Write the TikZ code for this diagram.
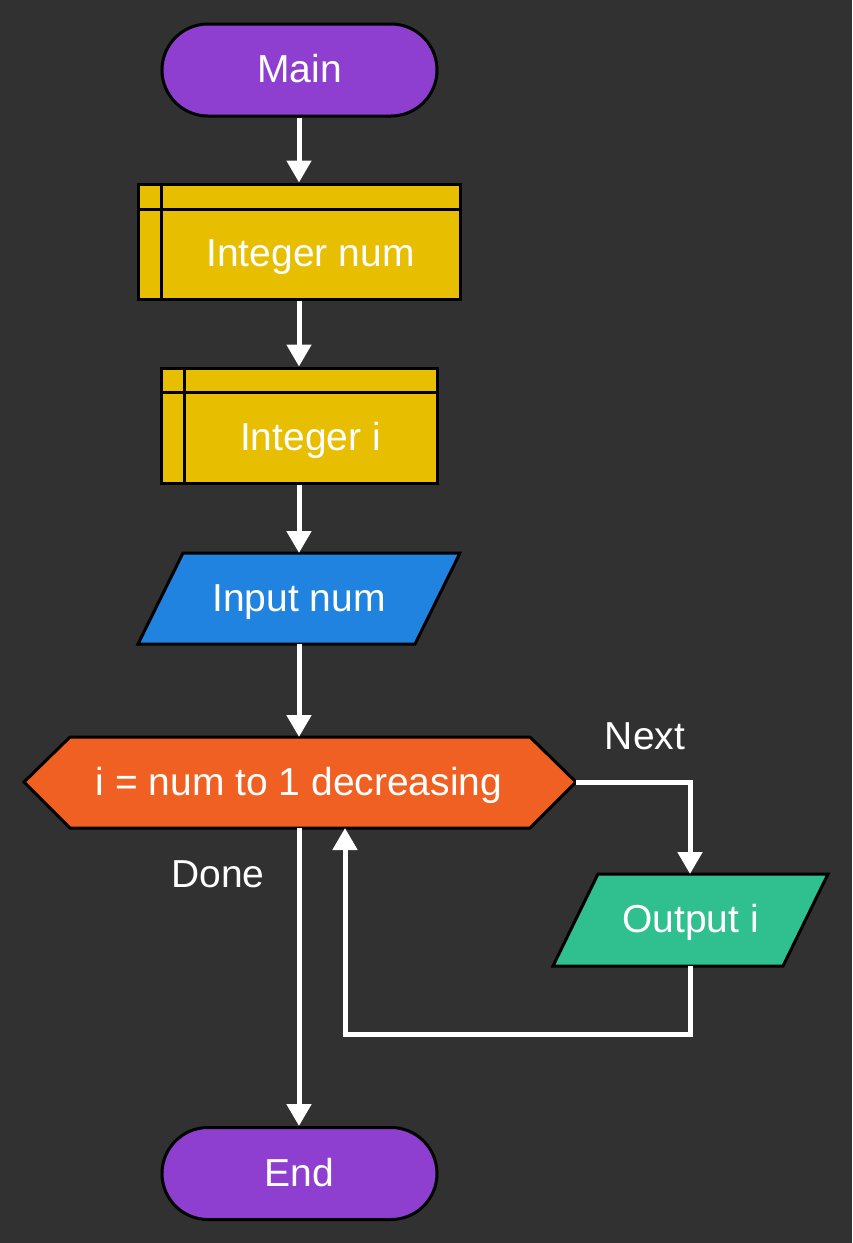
\documentclass[tikz,border=0pt]{standalone}
\usepackage{fontspec}
\setmainfont{Liberation Sans}
\usetikzlibrary{arrows.meta}
\definecolor{bg}{HTML}{313131}
\definecolor{term}{HTML}{8E3FCF}
\definecolor{decl}{HTML}{E8BE00}
\definecolor{inp}{HTML}{2183E0}
\definecolor{loopc}{HTML}{F06022}
\definecolor{outp}{HTML}{30C090}
\tikzset{
  shapeline/.style={draw=black,line width=3pt,line join=miter},
  lbl/.style={text=white,font=\fontsize{39}{46}\selectfont,inner sep=0pt,text height=31pt,text depth=6pt},
  flow/.style={draw=white,line width=5pt,-{Triangle[width=24pt,length=22pt]}},
}
\begin{document}
\begin{tikzpicture}[x=1pt,y=-1pt]
\fill[bg] (0,0) rectangle (852,1243);
\useasboundingbox (0,0) rectangle (852,1243);
% Main
\node[shapeline,fill=term,rounded corners=46pt,minimum width=275pt,minimum height=92pt,inner sep=0pt] (main) at (299.5,70) {};
\node[lbl] at (main.center) {Main};
% Integer num
\node[shapeline,fill=decl,minimum width=322pt,minimum height=115pt,inner sep=0pt] (intnum) at (299,241.5) {};
\draw[shapeline] (161,184) -- (161,299);
\draw[shapeline] (138,209) -- (460,209);
\node[lbl] (intnumt) at (310.5,254) {Integer num};
% Integer i
\node[shapeline,fill=decl,minimum width=276pt,minimum height=115pt,inner sep=0pt] (inti) at (299,425.5) {};
\draw[shapeline] (184,368) -- (184,483);
\draw[shapeline] (161,392) -- (437,392);
\node[lbl] (intit) at (310.5,437.5) {Integer i};
% Input num
\draw[shapeline,fill=inp] (183,553) -- (460,553) -- (415,644) -- (138,644) -- cycle;
\coordinate (inTop) at (299,553);
\coordinate (inBot) at (299,644);
\node[lbl] (inputt) at (299,598.5) {Input num};
% Loop hexagon
\draw[shapeline,fill=loopc] (24,782) -- (70,737) -- (530,737) -- (576,782) -- (530,828) -- (70,828) -- cycle;
\coordinate (hexTop) at (299,737);
\coordinate (hexBot) at (299,828);
\coordinate (hexBotR) at (345,828);
\coordinate (hexRight) at (576,782);
\node[lbl] (loopt) at (299,782.5) {i = num to 1 decreasing};
% Output i
\draw[shapeline,fill=outp] (598,874) -- (828,874) -- (783,966) -- (553,966) -- cycle;
\coordinate (outTop) at (690,874);
\coordinate (outBot) at (690,966);
\node[lbl] (outt) at (690.5,920) {Output i};
% End
\node[shapeline,fill=term,rounded corners=46pt,minimum width=275pt,minimum height=92pt,inner sep=0pt] (endn) at (299.5,1173.5) {};
\node[lbl] at (endn.center) {End};
% labels
\node[lbl] (nextl) at (645,737) {Next};
\node[lbl] (donel) at (218,875) {Done};
% connectors
\draw[flow] (main.south -| 299,0) -- (intnum.north -| 299,0);
\draw[flow] (intnum.south) -- (inti.north);
\draw[flow] (inti.south) -- (inTop);
\draw[flow] (inBot) -- (hexTop);
\draw[flow] (hexRight) -- (690,782) -- (outTop);
\draw[flow] (outBot) -- (690,1034) -- (345,1034) -- (hexBotR);
\draw[flow] (hexBot) -- (endn.north -| 299,0);
\end{tikzpicture}
\end{document}
